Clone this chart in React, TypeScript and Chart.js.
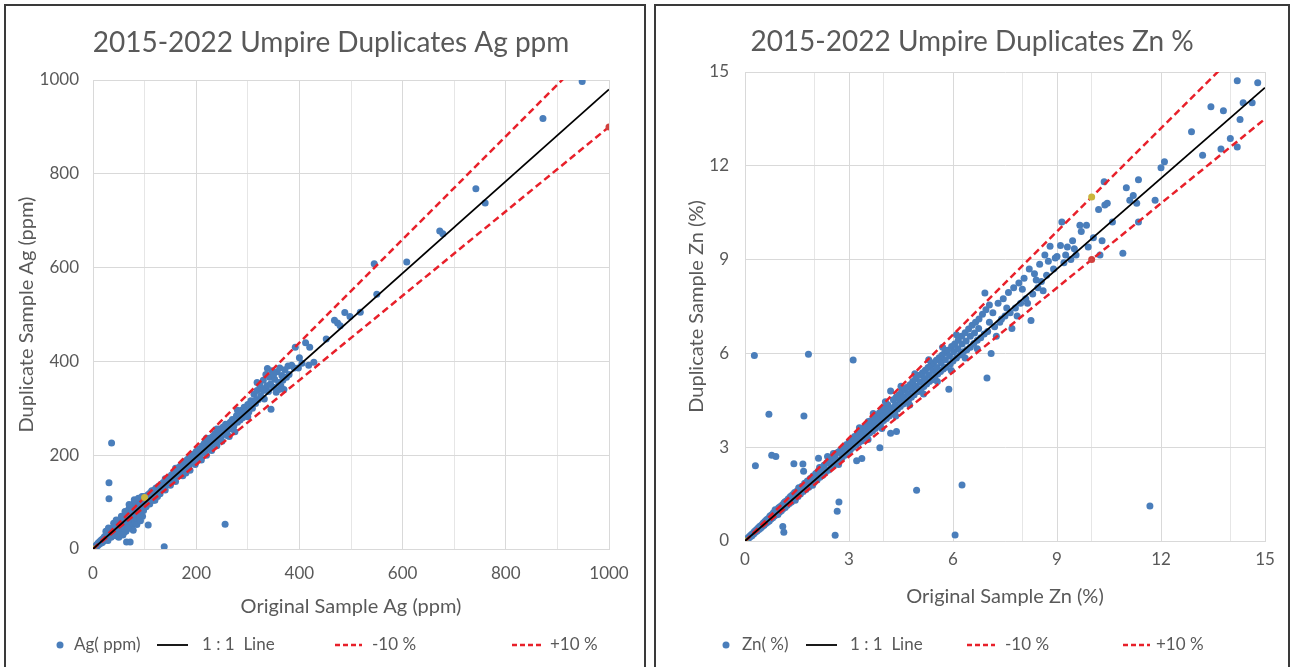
import React, { useEffect, useRef } from 'react';
import { Chart, registerables } from 'chart.js';

Chart.register(...registerables);

// ---------- DATA ----------
// Ag (ppm): [original, duplicate]
const agPairs: [number, number][] = [
  [1, 2], [3, 1], [4, 5], [6, 4], [7, 9], [9, 7], [10, 13], [12, 10], [13, 16], [15, 12], [16, 19], [18, 14],
  [19, 22], [21, 17], [22, 26], [24, 20], [25, 29], [27, 23], [28, 33], [29, 18], [30, 27], [31, 36], [33, 30],
  [34, 40], [35, 25], [36, 33], [37, 44], [38, 30], [40, 37], [41, 48], [42, 34], [43, 45], [44, 28], [45, 42],
  [46, 52], [47, 38], [48, 46], [49, 56], [50, 40], [51, 50], [52, 32], [53, 47], [54, 60], [55, 44], [56, 52],
  [57, 64], [58, 42], [59, 55], [60, 68], [61, 48], [62, 58], [63, 72], [64, 38], [65, 60], [66, 76], [67, 52],
  [68, 64], [69, 84], [70, 45], [70, 70], [71, 88], [72, 58], [73, 78], [74, 92], [75, 62], [75, 50], [76, 82],
  [77, 70], [78, 96], [78, 40], [79, 66], [80, 86], [81, 75], [82, 100], [82, 56], [83, 72], [84, 90], [85, 64],
  [86, 98], [86, 80], [87, 60], [88, 92], [89, 74], [90, 104], [90, 84], [91, 66], [92, 96], [93, 78], [94, 108],
  [95, 88], [96, 70], [97, 100], [98, 82], [99, 112], [100, 94], [101, 104], [103, 90], [104, 110], [106, 100],
  [107, 116], [109, 104], [110, 96], [111, 120], [113, 108], [114, 124], [116, 112], [117, 104], [119, 126],
  [120, 116], [122, 130], [124, 118], [125, 112], [127, 134], [129, 124], [130, 118], [132, 138], [134, 128],
  [136, 142], [138, 132], [140, 126], [142, 148], [144, 138], [146, 152], [148, 142], [150, 136], [152, 158],
  [154, 148], [156, 162], [158, 150], [160, 144], [162, 168], [164, 158], [166, 174], [168, 160], [170, 178],
  [172, 164], [174, 156], [176, 182], [178, 170], [180, 188], [182, 174], [184, 192], [186, 178], [188, 168],
  [190, 196], [192, 186], [194, 202], [196, 190], [198, 180], [200, 208], [203, 196], [205, 214], [207, 200],
  [210, 190], [212, 220], [214, 206], [216, 226], [218, 210], [220, 200], [222, 230], [224, 216], [226, 236],
  [228, 220], [230, 210], [232, 240], [234, 226], [236, 246], [238, 230], [240, 220], [242, 250], [244, 236],
  [246, 256], [248, 240], [250, 230], [252, 260], [255, 246], [257, 266], [259, 250], [262, 262], [264, 240],
  [266, 270], [268, 256], [270, 276], [273, 262], [275, 250], [278, 284], [280, 270], [283, 290], [285, 275],
  [288, 296], [290, 280], [293, 302], [296, 286], [300, 308], [302, 292], [306, 316], [309, 300], [312, 330],
  [315, 310], [318, 338], [320, 318], [323, 350], [325, 326], [328, 342], [330, 360], [332, 320], [335, 372],
  [337, 348], [340, 336], [342, 366], [344, 352], [345, 298], [347, 380], [350, 345], [352, 362], [355, 334],
  [357, 378], [360, 355], [362, 386], [364, 348], [366, 370], [368, 360], [370, 340], [372, 382], [375, 366],
  [378, 390], [380, 372], [385, 392], [392, 430], [398, 386], [405, 396], [412, 440], [418, 392], [428, 398],
  [452, 448], [468, 488], [474, 482], [479, 476], [488, 504], [498, 496], [518, 505], [545, 608], [550, 543],
  [608, 612], [672, 678], [678, 672], [742, 768], [760, 738], [872, 918], [948, 997],
  [105, 106], [115, 116], [125, 126], [135, 134], [145, 146], [155, 154], [165, 166], [175, 174], [185, 186],
  [195, 194], [206, 206], [215, 214], [225, 226], [235, 234], [245, 246], [254, 254], [265, 262], [285, 286],
  [295, 294], [305, 302], [316, 318], [120, 104], [140, 150], [160, 172], [180, 162], [200, 186], [220, 236],
  [240, 256], [260, 242], [280, 296], [300, 282], [330, 338], [350, 372], [360, 340], [318, 355], [338, 385],
  [390, 386], [400, 408], [420, 430], [55, 70], [62, 80], [70, 95], [80, 105], [88, 108], [95, 112], [60, 35],
  [68, 44], [85, 52], [92, 60], [40, 55], [30, 45], [25, 38], [45, 62], [50, 25], [58, 30],
  [36, 226], [31, 141], [31, 107], [256, 53], [138, 5], [107, 51], [65, 15], [72, 15],
];

// Zn (%): [original, duplicate]
const znPairs: [number, number][] = [
  [0.02, 0.03], [0.04, 0.02], [0.06, 0.07], [0.08, 0.06], [0.1, 0.11], [0.12, 0.1], [0.14, 0.16], [0.16, 0.14],
  [0.18, 0.2], [0.2, 0.17], [0.22, 0.24], [0.25, 0.22], [0.27, 0.3], [0.3, 0.28], [0.32, 0.35], [0.35, 0.32],
  [0.37, 0.41], [0.4, 0.37], [0.42, 0.46], [0.45, 0.41], [0.47, 0.5], [0.5, 0.46], [0.52, 0.57], [0.55, 0.5],
  [0.57, 0.62], [0.6, 0.56], [0.62, 0.68], [0.65, 0.6], [0.67, 0.72], [0.7, 0.64], [0.72, 0.8], [0.75, 0.7],
  [0.77, 0.84], [0.8, 0.74], [0.82, 0.9], [0.85, 0.8], [0.87, 1.0], [0.9, 0.84], [0.92, 0.98], [0.95, 0.88],
  [0.97, 1.06], [1.0, 0.93], [1.02, 1.1], [1.05, 0.97], [1.08, 1.16], [1.1, 1.03], [1.13, 1.22], [1.16, 1.07],
  [1.19, 1.28], [1.22, 1.14], [1.25, 1.35], [1.28, 1.2], [1.31, 1.42], [1.34, 1.25], [1.37, 1.48], [1.4, 1.32],
  [1.43, 1.55], [1.46, 1.38], [1.5, 1.6], [1.53, 1.42], [1.57, 1.68], [1.6, 1.5], [1.64, 1.75], [1.68, 1.58],
  [1.72, 1.85], [1.76, 1.65], [1.8, 1.92], [1.84, 1.72], [1.88, 2.0], [1.92, 1.8], [1.96, 2.08], [2.0, 1.88],
  [2.04, 2.16], [2.08, 1.95], [2.12, 2.25], [2.16, 2.04], [2.2, 2.34], [2.24, 2.1], [2.28, 2.42], [2.32, 2.2],
  [2.36, 2.5], [2.4, 2.26], [2.44, 2.58], [2.48, 2.36], [2.52, 2.66], [2.56, 2.42], [2.6, 2.75], [2.64, 2.5],
  [2.68, 2.84], [2.72, 2.58], [2.76, 2.92], [2.8, 2.66], [2.84, 3.0], [2.88, 2.74], [2.92, 3.08], [2.96, 2.82],
  [3.0, 3.16], [3.04, 2.92], [3.08, 3.25], [3.12, 3.0], [3.16, 3.34], [3.2, 3.06], [3.24, 3.42], [3.28, 3.14],
  [3.32, 3.5], [3.36, 3.2], [3.4, 3.6], [3.44, 3.3], [3.48, 3.68], [3.52, 3.36], [3.56, 3.82], [3.6, 3.46],
  [3.64, 3.85], [3.68, 3.52], [3.72, 3.94], [3.76, 3.6], [3.8, 4.02], [3.84, 3.68], [3.88, 4.1], [3.92, 3.76],
  [3.96, 4.18], [4.0, 3.85], [4.04, 4.28], [4.08, 3.92], [4.12, 4.36], [4.16, 4.0], [4.2, 4.8], [4.24, 4.08],
  [4.28, 4.52], [4.32, 4.14], [4.36, 4.6], [4.4, 4.22], [4.44, 4.68], [4.48, 4.3], [4.52, 4.78], [4.56, 4.38],
  [4.6, 4.86], [4.64, 4.46], [4.68, 4.92], [4.72, 4.52], [4.76, 5.0], [4.8, 4.6], [4.84, 5.1], [4.88, 4.68],
  [4.92, 5.18], [4.95, 5.28], [5.0, 4.78], [5.04, 5.3], [5.08, 4.86], [5.12, 5.38], [5.16, 4.94], [5.2, 5.46],
  [5.24, 5.02], [5.28, 5.55], [5.32, 5.1], [5.36, 5.62], [5.4, 5.16], [5.44, 5.7], [5.48, 5.26], [5.52, 5.78],
  [5.56, 5.34], [5.6, 5.86], [5.64, 5.42], [5.68, 5.94], [5.72, 5.5], [5.76, 6.02], [5.8, 5.56], [5.84, 6.1],
  [5.88, 4.85], [5.92, 5.66], [5.96, 6.22], [6.0, 5.76], [6.05, 6.3], [6.1, 5.85], [6.15, 6.42], [6.2, 5.95],
  [6.25, 6.55], [6.3, 6.05], [6.35, 6.66], [6.4, 6.12], [6.45, 6.78], [6.5, 6.2], [6.55, 6.9], [6.6, 6.32],
  [6.65, 7.0], [6.7, 6.42], [6.75, 7.1], [6.8, 6.5], [6.85, 7.25], [6.9, 6.62], [6.95, 7.4], [7.0, 6.7],
  [7.05, 7.0], [6.92, 7.93], [7.1, 6.0], [7.15, 7.3], [7.2, 6.85], [7.3, 7.6], [7.35, 7.0], [7.45, 7.75],
  [7.5, 7.2], [7.6, 7.95], [7.65, 7.3], [7.7, 6.8], [7.75, 8.1], [7.8, 7.45], [7.9, 8.25], [7.95, 7.6],
  [8.05, 8.4], [8.1, 7.75], [8.2, 8.7], [8.25, 7.05], [8.3, 7.9], [8.35, 8.55], [8.45, 8.1], [8.5, 8.85],
  [8.55, 8.3], [8.65, 9.15], [8.7, 8.5], [8.8, 9.43], [8.9, 8.7], [9.0, 9.1], [9.1, 9.45], [9.14, 10.2],
  [9.2, 8.9], [9.3, 9.4], [9.4, 9.0], [9.5, 9.35], [9.55, 9.15], [9.66, 10.1], [9.7, 9.9], [9.85, 10.1],
  [10.05, 9.7], [10.2, 10.6], [10.24, 9.15], [10.3, 9.6], [10.38, 10.75], [10.36, 11.49], [10.45, 10.8],
  [10.6, 10.2], [10.9, 9.2], [11.0, 11.3], [11.1, 10.9], [11.2, 11.05], [11.3, 10.8], [11.35, 11.55],
  [11.35, 10.2], [11.83, 10.9], [12.0, 11.94], [12.1, 12.13], [12.88, 13.09], [13.2, 12.34], [13.44, 13.89],
  [13.73, 12.54], [13.8, 13.76], [14.0, 12.87], [14.2, 12.6], [14.2, 14.72], [14.28, 13.48], [14.37, 14.02],
  [14.63, 14.02], [14.79, 14.66],
  [2.02, 2.0], [2.18, 2.2], [2.3, 2.28], [2.5, 2.52], [2.62, 2.6], [2.78, 2.8], [2.9, 2.9], [3.02, 3.05],
  [3.14, 3.18], [3.26, 3.28], [3.38, 3.4], [3.5, 3.5], [3.62, 3.66], [3.74, 3.75], [3.86, 3.88], [3.98, 4.0],
  [4.1, 4.12], [4.22, 4.25], [4.34, 4.36], [4.46, 4.5], [4.58, 4.6], [4.7, 4.72], [4.82, 4.85], [4.94, 4.95],
  [5.06, 5.08], [5.18, 5.2], [5.3, 5.32], [5.42, 5.45], [5.54, 5.55], [5.66, 5.7], [5.78, 5.8], [5.9, 5.92],
  [6.02, 6.05], [6.14, 6.15], [6.26, 6.3], [6.38, 6.4], [6.5, 6.55], [6.62, 6.65], [6.74, 6.8],
  [3.3, 3.62], [3.7, 4.08], [4.05, 4.45], [4.5, 4.95], [4.9, 5.35], [5.3, 5.8], [5.7, 6.2], [6.1, 6.6],
  [3.55, 3.25], [3.95, 3.6], [4.35, 4.0], [4.75, 4.35], [5.15, 4.7], [5.55, 5.1], [5.95, 5.45], [6.35, 5.85],
  [6.7, 6.15], [2.55, 2.8], [2.7, 2.45], [2.15, 2.35], [1.95, 1.78], [1.55, 1.7], [1.45, 1.3], [1.15, 1.25],
  [0.95, 0.85], [1.62, 1.62], [1.78, 1.8], [1.9, 1.92], [1.38, 1.4], [1.25, 1.24], [1.06, 1.05], [0.88, 0.9],
  [7.05, 7.55], [7.25, 6.55], [7.4, 7.1], [7.55, 7.45], [7.85, 7.2], [8.0, 8.05], [8.15, 7.6], [8.4, 8.35],
  [8.6, 8.0], [8.75, 8.95], [8.95, 9.05], [9.25, 9.15], [9.45, 9.6], [9.9, 9.4],
  [0.27, 5.93], [1.83, 5.97], [3.12, 5.79], [0.69, 4.05], [1.7, 4.0], [0.77, 2.74], [0.89, 2.7], [0.3, 2.41],
  [1.41, 2.47], [1.67, 2.46], [1.69, 2.23], [2.12, 2.65], [2.38, 2.7], [2.71, 1.25], [2.66, 0.95], [2.6, 0.18],
  [1.09, 0.46], [1.12, 0.28], [4.95, 1.62], [6.06, 0.19], [6.26, 1.79], [11.68, 1.12], [6.98, 5.21],
  [3.89, 2.98], [3.22, 2.57], [3.37, 2.64], [4.37, 3.5], [4.2, 3.45],
];

// Reference lines
const agOneToOne: [number, number][] = [[0, 0], [1000, 980]];
const agMinus10: [number, number][] = [[0, 0], [1000, 900]];
const agPlus10: [number, number][] = [[0, 0], [100, 110], [1000, 1100]];
const znOneToOne: [number, number][] = [[0, 0], [15, 14.5]];
const znMinus10: [number, number][] = [[0, 0], [10, 9], [15, 13.5]];
const znPlus10: [number, number][] = [[0, 0], [10, 11], [15, 16.5]];

// Axis ranges / tick steps
const agAxisMax = 1000;
const agMajorStep = 200;
const agMinorStep = 100;
const znAxisMax = 15;
const znMajorStep = 3;
const znMinorStep = 2;

// ---------- STYLE ----------
const BLUE = '#4a7ebb';
const RED = '#e8202a';
const TEXT = '#595959';
const GRID = '#d9d9d9';
const GRID_MINOR = '#e6e6e6';
const FONT = 'Lato, "Open Sans", sans-serif';

Chart.defaults.font.family = FONT;

type LegendItem = { ds: number; kind: 'dot' | 'line' | 'dash'; x0: number; x1: number; tx: number };

function legendPlugin(items: LegendItem[], y: number, size: number) {
  return {
    id: 'panelLegend',
    afterDraw(chart: any) {
      const ctx = chart.ctx as CanvasRenderingContext2D;
      ctx.save();
      ctx.textBaseline = 'middle';
      ctx.textAlign = 'left';
      for (const it of items) {
        const ds = chart.data.datasets[it.ds];
        if (it.kind === 'dot') {
          ctx.beginPath();
          ctx.fillStyle = BLUE;
          ctx.arc(it.x0, y, 3.5, 0, Math.PI * 2);
          ctx.fill();
        } else {
          ctx.beginPath();
          ctx.strokeStyle = it.kind === 'line' ? '#000' : RED;
          ctx.lineWidth = it.kind === 'line' ? 1.8 : 2.5;
          ctx.setLineDash(it.kind === 'dash' ? [5, 3] : []);
          ctx.moveTo(it.x0, y);
          ctx.lineTo(it.x1, y);
          ctx.stroke();
          ctx.setLineDash([]);
        }
        ctx.fillStyle = TEXT;
        ctx.font = `${size}px ${FONT}`;
        ctx.fillText(ds.label, it.tx, y);
      }
      ctx.restore();
    },
  };
}

type PanelSpec = {
  left: number;
  width: number;
  title: string;
  seriesLabel: string;
  xTitle: string;
  yTitle: string;
  pairs: [number, number][];
  one: [number, number][];
  minus: [number, number][];
  plus: [number, number][];
  minusRadius: number[];
  minusColors: string[];
  plusRadius: number[];
  plusColors: string[];
  max: number;
  major: number;
  minor: number;
  xStep: number;
  padding: { left: number; right: number; top: number; bottom: number };
  titlePad: { top: number; bottom: number };
  yAxisW: number;
  rightAxisW: number;
  xAxisH: number;
  yTitlePadTop: number;
  xTitlePadBottom: number;
  xTickPad: number;
  yTickPad: number;
  legendItems: LegendItem[];
  legendY: number;
};

const toXY = (arr: [number, number][]) => arr.map(([x, y]) => ({ x, y }));

function Panel({ spec }: { spec: PanelSpec }) {
  const ref = useRef<HTMLCanvasElement>(null);
  const cw = spec.width - 4;
  const ch = 659;
  useEffect(() => {
    const s = spec;
    const scales: any = {
      x: {
        type: 'linear',
        min: 0,
        max: s.max,
        afterFit: (sc: any) => {
          sc.height = s.xAxisH;
        },
        ticks: {
          stepSize: s.xStep,
          autoSkip: false,
          maxRotation: 0,
          padding: s.xTickPad,
          color: TEXT,
          font: { size: 17 },
          callback: (v: any) => (Number(v) % s.major === 0 ? String(v) : ''),
        },
        grid: {
          drawTicks: false,
          color: (c: any) => {
            const v = c.tick ? c.tick.value : 0;
            if (v % s.major === 0) return GRID;
            if (v % s.minor === 0) return GRID_MINOR;
            return 'rgba(0,0,0,0)';
          },
        },
        border: { color: GRID },
        title: {
          display: true,
          text: s.xTitle,
          color: TEXT,
          font: { size: 20 },
          padding: { top: 0, bottom: s.xTitlePadBottom },
        },
      },
      y: {
        type: 'linear',
        position: 'left',
        min: 0,
        max: s.max,
        afterFit: (sc: any) => {
          sc.width = s.yAxisW;
        },
        ticks: {
          stepSize: s.major,
          padding: s.yTickPad,
          color: TEXT,
          font: { size: 17 },
          callback: (v: any) => String(v),
        },
        grid: { drawTicks: false, color: GRID },
        border: { color: GRID },
        title: {
          display: true,
          text: s.yTitle,
          color: TEXT,
          font: { size: 20 },
          padding: { top: s.yTitlePadTop, bottom: 0 },
        },
      },
    };
    if (s.rightAxisW > 0) {
      scales.yRight = {
        type: 'linear',
        position: 'right',
        display: true,
        min: 0,
        max: 1,
        afterFit: (sc: any) => {
          sc.width = s.rightAxisW;
        },
        ticks: { display: false },
        grid: { display: false, drawTicks: false },
        border: { display: false },
      };
    }
    const chart = new Chart(ref.current as HTMLCanvasElement, {
      type: 'scatter',
      data: {
        datasets: [
          {
            label: s.seriesLabel,
            data: toXY(s.pairs),
            backgroundColor: BLUE,
            borderColor: BLUE,
            borderWidth: 0,
            pointRadius: 3.5,
            pointHoverRadius: 3.5,
            order: 3,
          },
          {
            label: '1 : 1  Line',
            data: toXY(s.one),
            showLine: true,
            borderColor: '#000',
            borderWidth: 1.8,
            pointRadius: 0,
            order: 1,
          },
          {
            label: '-10 %',
            data: toXY(s.minus),
            showLine: true,
            borderColor: RED,
            borderWidth: 2.5,
            borderDash: [7, 4],
            pointRadius: s.minusRadius,
            pointBackgroundColor: s.minusColors,
            pointBorderWidth: 0,
            order: 2,
          },
          {
            label: '+10 %',
            data: toXY(s.plus),
            showLine: true,
            borderColor: RED,
            borderWidth: 2.5,
            borderDash: [7, 4],
            pointRadius: s.plusRadius,
            pointBackgroundColor: s.plusColors,
            pointBorderWidth: 0,
            order: 2,
          },
        ],
      },
      options: {
        responsive: false,
        animation: false,
        layout: { padding: s.padding },
        plugins: {
          legend: { display: false },
          tooltip: { enabled: false },
          title: {
            display: true,
            text: s.title,
            color: TEXT,
            font: { size: 28, weight: 'normal' },
            padding: s.titlePad,
          },
        },
        scales,
      },
      plugins: [legendPlugin(s.legendItems, s.legendY, 17)],
    } as any);
    return () => chart.destroy();
  }, []);
  return (
    <div
      style={{
        position: 'absolute',
        left: spec.left,
        top: 4,
        width: spec.width,
        height: 690,
        border: '2px solid #3a3a3a',
        boxSizing: 'border-box',
        background: '#fff',
      }}
    >
      <canvas ref={ref} width={cw} height={ch} style={{ position: 'absolute', left: 0, top: 0 }} />
    </div>
  );
}

const agSpec: PanelSpec = {
  left: 4,
  width: 642,
  title: '2015-2022 Umpire Duplicates Ag ppm',
  seriesLabel: 'Ag( ppm)',
  xTitle: 'Original Sample Ag (ppm)',
  yTitle: 'Duplicate Sample Ag (ppm)',
  pairs: agPairs,
  one: agOneToOne,
  minus: agMinus10,
  plus: agPlus10,
  minusRadius: [0, 3.5],
  minusColors: [RED, '#d0413e'],
  plusRadius: [3.5, 3.5, 0],
  plusColors: ['#b8a93a', '#c9b53c', RED],
  max: agAxisMax,
  major: agMajorStep,
  minor: agMinorStep,
  xStep: agMinorStep,
  padding: { left: 12, right: 0, top: 0, bottom: 44 },
  titlePad: { top: 20, bottom: 20.4 },
  yAxisW: 75,
  rightAxisW: 35,
  xAxisH: 72,
  yTitlePadTop: -3,
  xTitlePadBottom: 2,
  xTickPad: 14,
  yTickPad: 14,
  legendItems: [
    { ds: 0, kind: 'dot', x0: 54, x1: 54, tx: 68 },
    { ds: 1, kind: 'line', x0: 151, x1: 182, tx: 196 },
    { ds: 2, kind: 'dash', x0: 329, x1: 356, tx: 366 },
    { ds: 3, kind: 'dash', x0: 506, x1: 536, tx: 544 },
  ],
  legendY: 639,
};

const znSpec: PanelSpec = {
  left: 654,
  width: 636,
  title: '2015-2022 Umpire Duplicates Zn %',
  seriesLabel: 'Zn( %)',
  xTitle: 'Original Sample Zn (%)',
  yTitle: 'Duplicate Sample Zn (%)',
  pairs: znPairs,
  one: znOneToOne,
  minus: znMinus10,
  plus: znPlus10,
  minusRadius: [0, 3.5, 0],
  minusColors: [RED, '#d0413e', RED],
  plusRadius: [3.5, 3.5, 0],
  plusColors: ['#8db849', '#c9b53c', RED],
  max: znAxisMax,
  major: znMajorStep,
  minor: znMinorStep,
  xStep: 1,
  padding: { left: 23, right: 23, top: 0, bottom: 44 },
  titlePad: { top: 19, bottom: 13.4 },
  yAxisW: 66,
  rightAxisW: 0,
  xAxisH: 80,
  yTitlePadTop: 5.7,
  xTitlePadBottom: 12,
  xTickPad: 8,
  yTickPad: 16,
  legendItems: [
    { ds: 0, kind: 'dot', x0: 70, x1: 70, tx: 86 },
    { ds: 1, kind: 'line', x0: 150, x1: 181, tx: 194 },
    { ds: 2, kind: 'dash', x0: 311, x1: 339, tx: 349 },
    { ds: 3, kind: 'dash', x0: 467, x1: 494, tx: 500 },
  ],
  legendY: 639,
};

export default function App() {
  return (
    <div
      style={{
        position: 'fixed',
        left: 0,
        top: 0,
        width: 1293,
        height: 667,
        background: '#fff',
        overflow: 'hidden',
      }}
    >
      <Panel spec={agSpec} />
      <Panel spec={znSpec} />
    </div>
  );
}
